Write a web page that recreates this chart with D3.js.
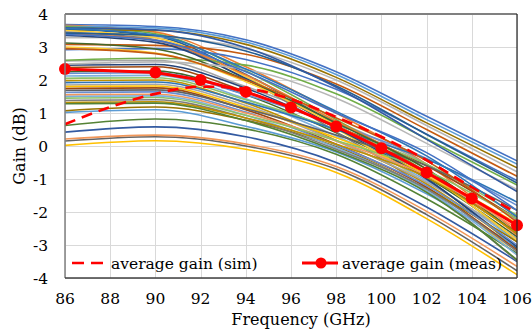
<!DOCTYPE html>
<html>
<head>
<meta charset="utf-8">
<script src="https://cdn.jsdelivr.net/npm/d3@7"></script>
<style>
  body { margin: 0; background: #fff; }
  svg { display: block; }
</style>
</head>
<body>
<div id="chart"></div>
<script>
// ── Data ──────────────────────────────────────────────────────────────────
const gainFreqs = [86, 90, 94, 98, 102, 106]

// one row per measured chip, gain (dB) at gainFreqs
const chipGains = [
  [3.68, 3.62, 3.22, 2.25, 0.90, -0.45],
  [3.66, 3.45, 2.40, 1.00, -0.55, -2.60],
  [2.58, 2.60, 1.80, 0.75, -0.55, -2.25],
  [0.02, 0.16, -0.10, -0.80, -2.20, -3.90],
  [3.63, 3.58, 3.15, 2.17, 0.80, -0.55],
  [3.62, 3.40, 2.27, 0.80, -0.80, -2.90],
  [2.45, 2.47, 1.75, 0.55, -0.85, -2.65],
  [2.38, 2.40, 1.65, 0.60, -0.60, -2.20],
  [0.15, 0.28, 0.00, -0.70, -2.08, -3.78],
  [3.52, 3.50, 3.08, 2.08, 0.70, -0.66],
  [3.55, 3.33, 2.17, 0.65, -0.98, -3.10],
  [2.25, 2.27, 1.55, 0.40, -0.95, -2.75],
  [2.20, 2.22, 1.55, 0.65, -0.38, -1.80],
  [0.21, 0.33, 0.06, -0.62, -1.98, -3.65],
  [3.28, 3.30, 2.95, 2.00, 0.62, -0.78],
  [3.50, 3.28, 2.10, 0.53, -1.15, -3.30],
  [2.12, 2.14, 1.43, 0.30, -1.05, -2.90],
  [2.05, 2.07, 1.40, 0.50, -0.55, -2.10],
  [0.42, 0.58, 0.28, -0.50, -1.85, -3.50],
  [3.08, 3.05, 2.78, 1.88, 0.50, -0.92],
  [3.45, 3.22, 2.03, 0.43, -1.28, -3.48],
  [1.98, 2.00, 1.30, 0.17, -1.15, -3.05],
  [1.92, 1.94, 1.33, 0.50, -0.40, -1.70],
  [0.62, 0.82, 0.52, -0.25, -1.60, -3.25],
  [2.92, 2.95, 2.62, 1.72, 0.36, -1.05],
  [3.40, 3.20, 2.15, 0.75, -0.70, -2.70],
  [1.85, 1.87, 1.23, 0.15, -1.10, -2.80],
  [1.80, 1.82, 1.17, 0.25, -0.85, -2.35],
  [1.02, 1.10, 0.60, -0.18, -1.45, -3.05],
  [2.60, 2.66, 2.45, 1.58, 0.22, -1.18],
  [3.35, 3.14, 2.05, 0.55, -1.00, -3.05],
  [1.74, 1.76, 1.10, 0.05, -1.25, -3.15],
  [1.68, 1.70, 1.13, 0.33, -0.60, -1.95],
  [1.07, 1.18, 0.78, -0.02, -1.30, -2.90],
  [3.42, 3.35, 2.88, 1.82, 0.35, -1.12],
  [3.12, 2.94, 2.00, 0.70, -0.70, -2.65],
  [1.62, 1.64, 1.03, 0.03, -1.20, -3.00],
  [1.55, 1.57, 1.00, 0.15, -0.90, -2.50],
  [2.48, 2.55, 2.32, 1.45, 0.08, -1.32],
  [3.00, 2.82, 1.95, 0.63, -0.85, -2.85],
  [1.50, 1.52, 0.93, -0.05, -1.35, -3.30],
  [1.45, 1.47, 0.93, 0.17, -0.75, -2.20],
  [3.58, 3.52, 2.98, 1.78, 0.20, -1.38],
  [2.95, 2.80, 2.00, 0.85, -0.45, -2.30],
  [1.38, 1.40, 0.85, -0.10, -1.30, -3.20],
  [1.32, 1.34, 0.85, 0.05, -0.95, -2.65],
  [3.56, 3.36, 2.33, 1.05, -0.30, -2.15],
  [1.28, 1.30, 0.77, -0.15, -1.40, -3.45],
  [3.38, 3.20, 2.25, 1.00, -0.20, -1.95]
]

const simFreqs = [86, 88, 90, 92, 94, 96, 98, 100, 102, 104, 106]
const simGain = [0.66, 1.18, 1.58, 1.80, 1.74, 1.42, 0.88, 0.28, -0.43, -1.25, -2.03]

const measFreqs = [86, 90, 92, 94, 96, 98, 100, 102, 104, 106]
const measGain = [2.33, 2.23, 2.00, 1.64, 1.17, 0.59, -0.07, -0.80, -1.59, -2.40]

const xTicks = [86, 88, 90, 92, 94, 96, 98, 100, 102, 104, 106]
const yTicks = [-4, -3, -2, -1, 0, 1, 2, 3, 4]

const lineColors = [
  '#4472C4', '#ED7D31', '#A5A5A5', '#FFC000', '#5B9BD5', '#70AD47',
  '#264478', '#9E480E', '#636363', '#997300', '#255E91', '#43682B',
  '#698ED0', '#F1975A', '#B7B7B7', '#FFCD33', '#7CAFDD', '#8CC168',
  '#335AA1', '#C55A11', '#7C7C7C', '#BF9000', '#2E75B6', '#548235'
]

const legendLabels = ['average gain (sim)', 'average gain (meas)']

// ── Layout ────────────────────────────────────────────────────────────────
const W = 532, H = 332
const M = { top: 14, right: 15, bottom: 54, left: 65 }
const RED = '#FF0000'
const FONT = "'DejaVu Serif', serif"

const svg = d3.select('#chart').append('svg')
  .attr('width', W).attr('height', H)
  .style('font-family', FONT)

const x = d3.scaleLinear().domain([86, 106]).range([M.left, W - M.right])
const y = d3.scaleLinear().domain([-4, 4]).range([H - M.bottom, M.top])

svg.append('defs').append('clipPath').attr('id', 'plot-clip')
  .append('rect')
  .attr('x', x(86)).attr('y', y(4))
  .attr('width', x(106) - x(86)).attr('height', y(-4) - y(4))

// ── Grid ──────────────────────────────────────────────────────────────────
const grid = svg.append('g').attr('stroke', '#d9d9d9').attr('stroke-width', 1)
grid.selectAll('.hg').data(yTicks).join('line')
  .attr('x1', x(86)).attr('x2', x(106))
  .attr('y1', d => Math.round(y(d)) + 0.5).attr('y2', d => Math.round(y(d)) + 0.5)
grid.selectAll('.vg').data(xTicks).join('line')
  .attr('y1', y(4)).attr('y2', y(-4))
  .attr('x1', d => Math.round(x(d)) + 0.5).attr('x2', d => Math.round(x(d)) + 0.5)

// ── Chip curves ───────────────────────────────────────────────────────────
const plot = svg.append('g').attr('clip-path', 'url(#plot-clip)')

const chipLine = d3.line()
  .x((d, i) => x(gainFreqs[i]))
  .y(d => y(d))
  .curve(d3.curveMonotoneX)

plot.selectAll('.chip').data(chipGains).join('path')
  .attr('class', 'chip')
  .attr('d', chipLine)
  .attr('fill', 'none')
  .attr('stroke', (d, i) => lineColors[i % lineColors.length])
  .attr('stroke-width', 1.6)

// ── Averages ──────────────────────────────────────────────────────────────
const simLine = d3.line()
  .x((d, i) => x(simFreqs[i]))
  .y(d => y(d))
  .curve(d3.curveMonotoneX)

plot.append('path')
  .attr('d', simLine(simGain))
  .attr('fill', 'none')
  .attr('stroke', RED)
  .attr('stroke-width', 2.6)
  .attr('stroke-dasharray', '11,7')

const measLine = d3.line()
  .x((d, i) => x(measFreqs[i]))
  .y(d => y(d))

svg.append('path')
  .attr('d', measLine(measGain))
  .attr('fill', 'none')
  .attr('stroke', RED)
  .attr('stroke-width', 3)

svg.selectAll('.meas-dot').data(measGain).join('circle')
  .attr('cx', (d, i) => x(measFreqs[i]))
  .attr('cy', d => y(d))
  .attr('r', 6)
  .attr('fill', RED)

// ── Frame ─────────────────────────────────────────────────────────────────
const frame = svg.append('g').attr('fill', 'none')
frame.append('line').attr('x1', x(86)).attr('x2', x(106)).attr('y1', y(4)).attr('y2', y(4))
  .attr('stroke', '#808080').attr('stroke-width', 2)
frame.append('line').attr('x1', x(86)).attr('x2', x(86)).attr('y1', y(4)).attr('y2', y(-4))
  .attr('stroke', '#808080').attr('stroke-width', 1.5)
frame.append('line').attr('x1', x(106)).attr('x2', x(106)).attr('y1', y(4)).attr('y2', y(-4))
  .attr('stroke', '#222').attr('stroke-width', 1.2)
frame.append('line').attr('x1', x(86)).attr('x2', x(106)).attr('y1', y(-4)).attr('y2', y(-4))
  .attr('stroke', '#404040').attr('stroke-width', 1.6)

// ── Tick labels ───────────────────────────────────────────────────────────
svg.selectAll('.ytl').data(yTicks).join('text')
  .attr('x', M.left - 17)
  .attr('y', d => y(d))
  .attr('dy', '0.36em')
  .attr('text-anchor', 'end')
  .style('font-size', '15.5px')
  .text(d => d < 0 ? '-' + Math.abs(d) : d)

svg.selectAll('.xtl').data(xTicks).join('text')
  .attr('x', d => x(d))
  .attr('y', 304)
  .attr('text-anchor', 'middle')
  .style('font-size', '15.5px')
  .text(d => d)

svg.append('text')
  .attr('x', 301).attr('y', 325)
  .attr('text-anchor', 'middle')
  .style('font-size', '16px')
  .text('Frequency (GHz)')

svg.append('text')
  .attr('transform', `translate(25, ${(y(4) + y(-4)) / 2}) rotate(-90)`)
  .attr('text-anchor', 'middle')
  .style('font-size', '16px')
  .text('Gain (dB)')

// ── Legend ────────────────────────────────────────────────────────────────
const lg = svg.append('g')
const ly = 263
lg.append('line').attr('x1', 72).attr('x2', 104).attr('y1', ly).attr('y2', ly)
  .attr('stroke', RED).attr('stroke-width', 2.6).attr('stroke-dasharray', '12,7')
lg.append('text').attr('x', 111).attr('y', ly + 6).style('font-size', '15.5px')
  .text(legendLabels[0])
lg.append('line').attr('x1', 302).attr('x2', 338).attr('y1', ly).attr('y2', ly)
  .attr('stroke', RED).attr('stroke-width', 3)
lg.append('circle').attr('cx', 321).attr('cy', ly).attr('r', 5.5).attr('fill', RED)
lg.append('text').attr('x', 342).attr('y', ly + 6).style('font-size', '15.5px')
  .text(legendLabels[1])
</script>
</body>
</html>
